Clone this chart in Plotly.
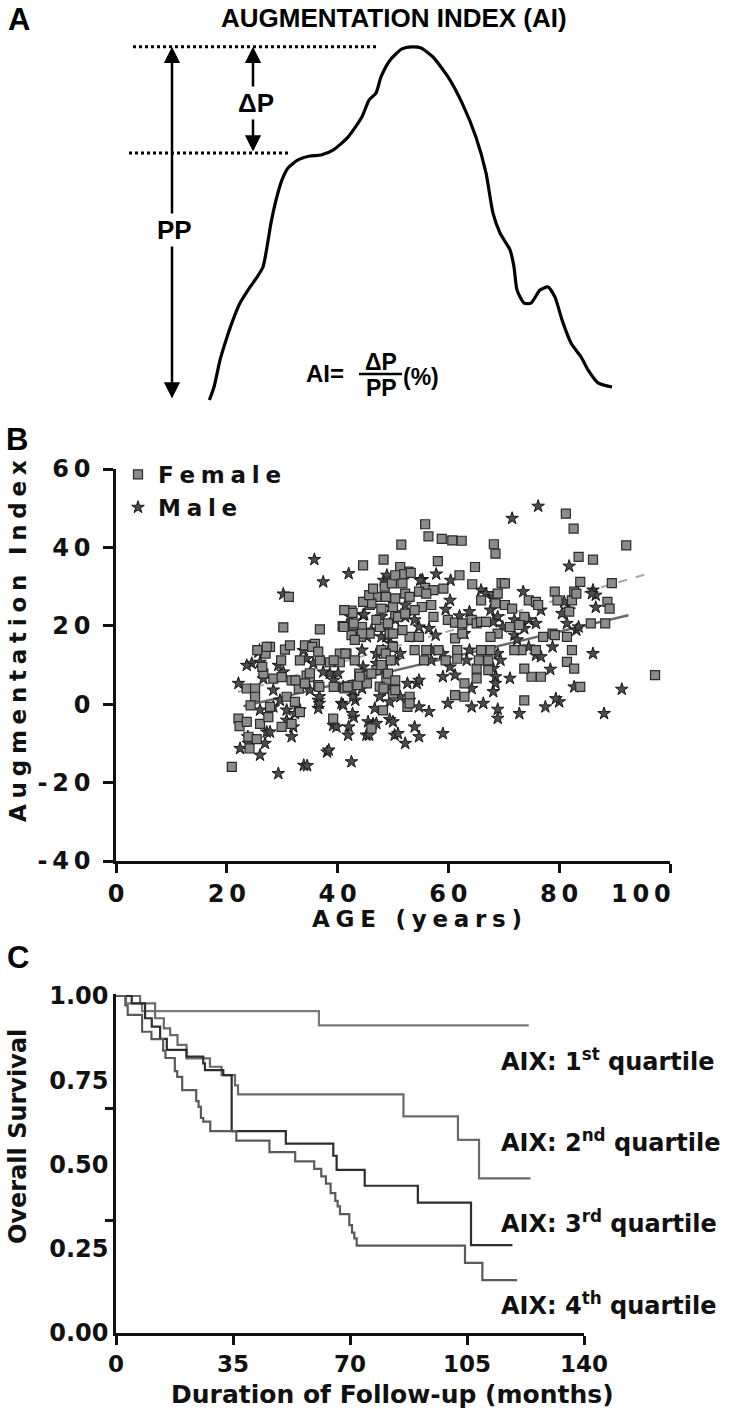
import plotly.graph_objects as go

W, H = 743, 1409

# ---------------- Panel A: schematic aortic pressure wave ----------------
wave_t = [0.1, 1.25, 2.75, 4.25, 6.0, 7.75, 9.75, 12.0, 13.5, 14.5, 15.5, 16.75, 18.25,
          19.75, 22.25, 25.25, 28.0, 31.0, 34.75, 38.25, 40.0, 41.75, 43.0, 45.25, 48.25,
          50.75, 53.0, 56.0, 59.75, 63.25, 66.75, 69.25, 71.0, 72.75, 75.25, 76.25, 77.0,
          78.75, 80.5, 82.75, 84.75, 86.5, 88.25, 90.5, 93.0, 94.75, 97.25, 100.75]
wave_p = [0.0, 3.7, 11.4, 17.1, 22.9, 27.7, 31.4, 35.1, 38.0, 43.7, 50.6, 57.1, 62.9,
          66.3, 68.6, 69.7, 70.0, 71.4, 75.1, 80.9, 85.7, 87.7, 92.3, 97.1, 100.3,
          100.9, 100.6, 98.0, 92.3, 84.9, 75.1, 64.9, 53.4, 47.7, 42.9, 38.0, 31.4,
          27.7, 27.7, 31.4, 32.3, 29.4, 22.9, 16.3, 12.3, 8.6, 4.9, 3.7]
peak_p = max(wave_p)
inflection_p = 70.6
base_p = min(wave_p)

# ---------------- Panel B: Augmentation index vs age ----------------
female_age = [20.9, 23.9, 24.1, 25.4, 22.1, 22.3, 23.6, 23.6, 25.1, 25.1,
              24.3, 26.0, 27.5, 27.8, 28.4, 29.9, 31.7, 33.0, 30.8, 32.3,
              33.2, 31.7, 29.9, 26.6, 27.8, 27.0, 30.5, 31.4, 30.2, 34.1,
              35.9, 33.2, 34.4, 35.0, 36.8, 36.5, 39.2, 38.6, 40.4, 41.6,
              40.4, 39.5, 41.3, 42.8, 42.5, 42.8, 40.9, 42.5, 43.9, 45.2,
              44.2, 45.8, 46.1, 45.2, 48.2, 45.8, 47.6, 49.4, 50.0, 48.2,
              48.8, 50.0, 50.4, 50.0, 47.0, 47.6, 31.2, 44.6, 48.3, 51.5,
              55.8, 56.4, 58.8, 60.7, 62.4, 58.1, 68.2, 68.5, 64.8, 81.2,
              82.6, 83.5, 86.1, 92.1, 97.3, 83.8, 89.5, 62.0, 52.8, 64.3,
              69.6, 55.8, 57.3, 59.1, 48.5, 49.8, 51.3, 52.0, 53.2, 50.4,
              51.7, 52.2, 53.0, 50.4, 48.7, 47.0, 45.3, 46.1, 44.4, 42.7,
              42.9, 41.1, 54.7, 56.0, 56.9, 55.2, 53.9, 57.3, 59.9, 61.2,
              62.5, 64.2, 65.1, 65.9, 66.8, 68.9, 70.2, 65.9, 68.5, 70.2,
              71.5, 73.7, 74.5, 75.8, 76.2, 79.2, 79.7, 82.3, 82.7, 83.1,
              81.8, 81.4, 82.3, 81.4, 82.7, 83.8, 78.8, 79.2, 77.1, 75.8,
              76.7, 75.0, 73.7, 73.2, 71.9, 71.1, 72.8, 73.7, 68.9, 67.6,
              67.6, 67.2, 67.2, 65.1, 65.1, 62.9, 62.9, 61.2, 61.6, 61.6,
              61.2, 62.5, 65.9, 65.5, 85.7, 88.3, 88.7, 89.1, 41.2, 44.6,
              45.7, 46.4, 47.9, 48.7, 49.6, 47.9, 49.1, 50.4, 48.3, 46.1,
              45.3, 50.4, 53.0, 52.6, 55.6, 56.0, 53.9, 54.7, 53.0, 51.7,
              50.0, 49.1, 50.9, 52.2, 47.0, 47.9, 44.4, 43.1, 41.4, 43.1,
              39.3, 36.8, 35.4, 36.5, 35.0, 34.1, 32.4, 36.7, 39.3, 41.8,
              43.6, 44.0, 53.0, 58.2, 59.5, 25.5, 27.2, 26.4, 29.8]
female_ai = [-16.0, -8.3, -11.3, -8.9, -3.7, -5.6, -4.5, 4.0, 4.0, 1.9,
             -0.3, -5.0, -3.3, -0.7, 6.5, 6.9, 6.1, 4.0, 1.9, 0.6,
             -2.0, -5.0, -5.8, 7.8, 14.6, 12.9, 13.9, 15.0, 19.6, 15.0,
             15.4, 11.2, 7.3, 6.9, 19.1, 4.9, -3.7, 10.7, 12.9, 12.9,
             10.7, 4.5, 4.0, 4.9, 23.9, 20.1, 19.9, 17.6, 7.8, 7.3,
             17.2, 18.0, -6.2, 6.1, -1.6, 25.3, 19.7, 18.0, 14.6, 9.5,
             6.1, 2.7, 22.7, 24.8, 8.7, 4.5, 27.4, 35.4, 36.9, 40.7,
             45.9, 42.8, 42.2, 41.8, 41.7, 36.5, 40.8, 38.4, 35.0, 48.6,
             44.8, 37.6, 36.9, 40.5, 7.4, 31.2, 30.9, 32.9, 33.8, 30.6,
             30.9, 29.7, 29.1, 29.5, 30.0, 30.8, 35.0, 33.2, 33.5, 32.9,
             30.8, 28.2, 27.4, 27.0, 27.4, 27.4, 26.1, 25.7, 19.7, 23.3,
             20.6, 19.7, 28.7, 28.2, 25.3, 24.8, 24.0, 22.3, 21.5, 20.8,
             20.6, 21.5, 20.6, 21.0, 21.0, 28.2, 30.8, 26.5, 25.7, 25.3,
             24.4, 22.3, 26.5, 26.1, 25.3, 28.7, 26.5, 26.5, 28.7, 28.2,
             23.6, 17.2, 13.8, 10.8, 9.1, 4.4, 18.0, 17.6, 17.2, 13.8,
             7.0, 7.0, 9.1, 13.8, 13.8, 19.7, 20.2, 1.0, 18.0, 17.2,
             13.8, 11.2, 8.7, 9.1, 6.6, 5.3, 1.9, 2.3, 13.8, 11.6,
             16.8, 18.0, 13.8, 11.2, 20.6, 20.6, 26.1, 24.4, 24.0, 26.1,
             27.8, 29.5, 13.8, 12.9, 11.2, 10.0, 7.8, 6.1, 4.0, 7.8,
             5.3, 3.6, 1.9, -0.7, 11.2, 13.8, 13.8, 17.2, 17.2, 18.9,
             18.0, 20.6, 22.3, 23.1, 21.5, 24.4, 18.0, 16.4, 12.9, 11.2,
             11.2, 11.2, 14.6, 13.4, 7.9, 5.3, 6.1, 4.4, 4.4, 4.4,
             4.9, 7.0, 0.2, 13.8, 11.2, 13.8, 14.6, 9.5, 11.2]

male_age = [22.1, 24.5, 25.7, 26.0, 23.6, 29.3, 30.2, 26.6, 28.4, 29.6,
            30.8, 28.4, 26.0, 27.2, 22.4, 23.9, 26.0, 26.9, 27.8, 29.3,
            31.7, 32.0, 30.8, 33.9, 38.1, 42.5, 33.8, 34.4, 35.6, 35.0,
            36.5, 36.5, 40.7, 39.2, 39.8, 42.0, 41.9, 42.9, 43.2, 44.6,
            42.2, 42.8, 45.2, 45.5, 46.4, 46.7, 49.4, 50.3, 49.4, 48.8,
            47.6, 48.2, 48.8, 44.6, 42.8, 38.6, 37.4, 33.2, 32.3, 35.8,
            37.4, 42.0, 44.8, 30.2, 55.3, 57.8, 60.4, 60.3, 59.5, 62.0,
            63.8, 62.9, 63.8, 63.3, 61.2, 60.3, 59.9, 59.0, 64.2, 64.2,
            66.3, 65.9, 66.8, 68.1, 67.6, 68.9, 68.1, 69.8, 68.9, 69.4,
            68.1, 68.5, 68.5, 68.1, 68.9, 68.9, 71.1, 71.5, 71.9, 71.9,
            72.4, 72.8, 73.5, 73.7, 74.5, 74.5, 76.2, 75.8, 75.8, 76.7,
            76.7, 77.5, 78.4, 78.8, 80.0, 80.5, 80.9, 81.4, 81.8, 81.8,
            82.7, 83.1, 83.5, 86.1, 86.6, 86.6, 86.1, 88.1, 91.3, 48.3,
            52.2, 52.2, 53.9, 54.7, 56.5, 57.7, 56.9, 56.9, 59.0, 59.0,
            54.3, 56.5, 54.7, 53.0, 51.3, 49.6, 48.7, 50.4, 51.3, 49.6,
            47.9, 48.7, 47.9, 50.4, 49.6, 47.0, 45.3, 46.1, 44.4, 54.7,
            53.9, 52.2, 50.9, 50.0, 47.0, 45.7, 42.7, 41.0, 39.3, 38.4,
            34.5, 23.8, 40.1, 36.7, 36.7, 41.0, 44.4, 47.0, 44.4, 54.7,
            52.6, 54.9, 85.9, 79.4, 48.9, 25.9]
male_ai = [5.3, 10.4, 13.3, 10.7, 9.9, 9.9, 8.2, 6.5, 3.6, 1.0,
           -1.5, -0.7, -1.5, -7.1, -11.3, -10.0, -13.0, -10.0, -7.1, -17.7,
           -8.3, -5.8, -4.1, -15.6, -12.2, -14.7, 13.7, 11.6, 10.4, 3.6,
           1.0, -1.1, 0.2, -5.4, -5.8, -5.8, -7.9, -3.3, 1.0, 22.7,
           22.4, 1.9, -7.9, -4.5, -5.0, -1.1, -3.9, -7.9, 0.6, 3.6,
           1.9, 13.7, 17.2, 9.5, 3.6, 7.8, 8.2, -1.5, -2.4, 36.9,
           31.2, 33.3, 22.9, 28.1, 31.8, 33.2, 31.6, 26.5, 24.2, 22.5,
           23.6, 18.0, 13.8, 11.2, 7.4, 9.5, 0.2, -7.5, 4.0, -0.7,
           0.2, 29.1, 28.2, 27.4, 24.0, 22.3, 21.0, 19.7, 12.9, 11.2,
           9.1, 7.0, 5.3, 3.2, -1.3, -3.6, 6.6, 47.4, 21.5, 17.6,
           16.4, -2.4, 28.7, 19.3, 21.5, 14.6, 50.5, 20.6, 12.5, 12.1,
           24.0, -0.7, 8.9, 14.6, 0.6, 23.1, 26.1, 20.6, 24.0, 35.2,
           4.4, 18.9, 19.7, 29.1, 27.8, 24.7, 12.9, -2.4, 3.8, 31.6,
           25.3, 22.3, 21.5, 19.7, 19.3, 17.6, 13.8, 11.2, 12.9, 7.0,
           5.3, -1.9, -0.7, 1.0, 1.9, 4.0, 7.8, 11.2, 12.9, 15.5,
           17.2, 19.7, 22.3, 21.5, 24.8, 12.9, 17.2, 18.9, 13.8, -8.3,
           -5.8, -10.0, -7.5, -4.5, -4.9, -7.9, -2.4, -0.2, 6.1, -11.7,
           -15.7, -8.3, 7.9, 0.2, 1.9, 4.4, 4.0, 10.4, 7.9, 6.1,
           5.3, 31.6, 28.2, 1.4, 32.9, 13.8]

fit_solid_age = [23.0, 92.5]
fit_solid_ai = [-0.5, 22.7]
fit_dash_age = [22.0, 96.5]
fit_dash_ai = [3.1, 33.5]

b_xticks = [0, 20, 40, 60, 80, 100]
b_yticks = [-40, -20, 0, 20, 40, 60]

# ---------------- Panel C: Kaplan-Meier survival by AIx quartile ----------------
q1_t = [0, 3.0, 7.8, 60.7, 123.5]
q1_s = [1.0, 0.978, 0.955, 0.913, 0.913]
q2_t = [0, 7.2, 11.7, 14.3, 16.2, 18.4, 21.1, 28.1, 31.6, 35.6, 36.5, 86.0, 102.3, 108.6, 124.0]
q2_s = [1.0, 0.978, 0.934, 0.904, 0.884, 0.855, 0.815, 0.790, 0.765, 0.735, 0.708, 0.643, 0.573, 0.459, 0.459]
q3_t = [0, 4.7, 8.7, 10.7, 13.2, 15.2, 21.1, 26.1, 26.6, 32.1, 34.6, 50.8, 65.0, 66.0, 74.4, 90.3, 106.2, 118.6]
q3_s = [1.0, 0.978, 0.934, 0.909, 0.873, 0.840, 0.820, 0.800, 0.780, 0.765, 0.599, 0.562, 0.526, 0.484, 0.437, 0.387, 0.261, 0.261]
q4_t = [0, 2.8, 3.5, 7.8, 10.6, 14.1, 14.8, 17.6, 18.3, 19.8, 24.0, 24.7, 25.4, 26.1, 28.2, 36.0,
        45.9, 53.6, 59.3, 61.4, 62.8, 64.2, 65.6, 66.3, 67.0, 69.8, 70.6, 71.3, 72.0, 104.4, 109.6, 120.0]
q4_s = [1.0, 0.972, 0.944, 0.894, 0.872, 0.838, 0.816, 0.777, 0.760, 0.721, 0.688, 0.671, 0.638, 0.627, 0.599, 0.571,
        0.537, 0.509, 0.487, 0.465, 0.443, 0.415, 0.392, 0.376, 0.353, 0.320, 0.298, 0.281, 0.259, 0.208, 0.157, 0.157]
quartile_labels = ["1<sup>st</sup>", "2<sup>nd</sup>", "3<sup>rd</sup>", "4<sup>th</sup>"]
quartile_label_s = [0.81, 0.571, 0.328, 0.086]

c_xticks = [0, 35, 70, 105, 140]
c_yticks = [0, 0.25, 0.5, 0.75, 1.0]


def px(x):
    return x / W


def py(y):
    return 1 - y / H


def spaced(s, sep="\u2005"):
    return sep.join(s)


INK = "#111111"
HEAVY = "DejaVu Sans"
ARIAL = "Liberation Sans, Arial, sans-serif"

fig = go.Figure()

# Panel A curve
fig.add_trace(go.Scatter(x=wave_t, y=wave_p, mode="lines",
                         line=dict(color="black", width=3.2, shape="spline", smoothing=0.6),
                         xaxis="x", yaxis="y", showlegend=False, hoverinfo="skip"))

# Panel B regression lines
fig.add_trace(go.Scatter(x=fit_dash_age, y=fit_dash_ai, mode="lines",
                         line=dict(color="#a8a8a8", width=2, dash="dash"),
                         xaxis="x2", yaxis="y2", showlegend=False))
fig.add_trace(go.Scatter(x=fit_solid_age, y=fit_solid_ai, mode="lines",
                         line=dict(color="#6a6a6a", width=2.5),
                         xaxis="x2", yaxis="y2", showlegend=False))
fig.add_trace(go.Scatter(x=male_age, y=male_ai, mode="markers", name=spaced("Male"), legendrank=2,
                         marker=dict(symbol="star", size=9.5, color="#4d4d4d",
                                     line=dict(color="#151515", width=1)),
                         xaxis="x2", yaxis="y2"))
fig.add_trace(go.Scatter(x=female_age, y=female_ai, mode="markers", name=spaced("Female"), legendrank=1,
                         marker=dict(symbol="square", size=9, color="#8c8c8c",
                                     line=dict(color="#2a2a2a", width=1.2)),
                         xaxis="x2", yaxis="y2"))

# Panel C survival curves
for t, s, col in [(q1_t, q1_s, "#7a7a7a"), (q2_t, q2_s, "#6a6a6a"),
                  (q3_t, q3_s, "#2e2e2e"), (q4_t, q4_s, "#5a5a5a")]:
    fig.add_trace(go.Scatter(x=t, y=s, mode="lines", line=dict(color=col, width=2.2, shape="hv"),
                             xaxis="x3", yaxis="y3", showlegend=False))

axis_common = dict(showgrid=False, zeroline=False, showline=True, linecolor=INK, linewidth=2.5,
                   automargin=False)

fig.update_layout(
    template="none",
    width=W, height=H, autosize=False,
    margin=dict(l=0, r=0, t=0, b=0, pad=0),
    paper_bgcolor="white", plot_bgcolor="rgba(0,0,0,0)",
    hovermode=False,
    xaxis=dict(domain=[0, 1], range=[-52.25, 133.5], visible=False, anchor="y", automargin=False),
    yaxis=dict(domain=[py(420), 1], range=[-5.714, 114.286], visible=False, anchor="x", automargin=False),
    xaxis2=dict(domain=[px(116), px(670)], range=[0, 100], anchor="y2", **axis_common,
                ticks="outside", ticklen=9, tickwidth=2.5, tickcolor=INK,
                tickmode="array", tickvals=b_xticks,
                ticktext=[spaced(str(v), "\u2009") if v != 100 else spaced(str(v), "\u2009") + "\u00a0" * 7
                          for v in b_xticks],
                tickfont=dict(family=HEAVY, size=24, color=INK, weight="bold")),
    yaxis2=dict(domain=[py(861), py(469)], range=[-40, 60], anchor="x2", **axis_common,
                ticks="outside", ticklen=10, tickwidth=2.5, tickcolor=INK,
                tickmode="array", tickvals=b_yticks,
                ticktext=[spaced(str(v), "\u2009") for v in b_yticks],
                ticklabelstandoff=8,
                tickfont=dict(family=HEAVY, size=24, color=INK, weight="bold")),
    xaxis3=dict(domain=[px(116), px(584)], range=[0, 140], anchor="y3", **axis_common,
                ticks="outside", ticklen=9, tickwidth=2.5, tickcolor=INK,
                tickmode="array", tickvals=c_xticks, ticktext=[str(v) for v in c_xticks],
                tickfont=dict(family=HEAVY, size=23, color=INK, weight="bold")),
    yaxis3=dict(domain=[py(1333), py(996 - 0.005 * 337)], range=[0, 1.005], anchor="x3", **axis_common,
                ticks="", tickmode="array", tickvals=c_yticks,
                ticktext=["%.2f" % v for v in c_yticks],
                minor=dict(tickmode="array", tickvals=[1 / 3, 2 / 3], ticks="outside",
                           ticklen=8, tickwidth=2.5, tickcolor=INK),
                tickfont=dict(family=HEAVY, size=24, color=INK, weight="bold")),
    showlegend=True,
    legend=dict(x=px(118), y=py(453), xanchor="left", yanchor="top",
                bgcolor="rgba(0,0,0,0)", borderwidth=0, tracegroupgap=0, itemwidth=30,
                font=dict(family=HEAVY, size=23, color=INK, weight="bold")),
)

# ---- Panel A guide lines ----
fig.add_shape(type="line", xref="x", yref="y", x0=-19, x1=42.25, y0=peak_p, y1=peak_p,
              line=dict(color="black", width=3, dash="dot"))
fig.add_shape(type="line", xref="x", yref="y", x0=-20, x1=19.75, y0=inflection_p, y1=inflection_p,
              line=dict(color="black", width=3, dash="dot"))


def note(x, y, text, font, xanchor="center", yanchor="middle", xref="paper", yref="paper", **kw):
    d = dict(x=x, y=y, xref=xref, yref=yref, text=text, showarrow=False,
             xanchor=xanchor, yanchor=yanchor, font=font)
    d.update(kw)
    return d


annotations = []
# PP arrow and ΔP arrow (double headed)
for xa, lo, hi in [(-9.25, base_p, peak_p), (11.0, inflection_p, peak_p)]:
    annotations.append(dict(x=xa, y=hi, ax=xa, ay=lo, xref="x", yref="y", axref="x", ayref="y",
                            text="", showarrow=True, arrowside="end+start",
                            arrowhead=2, startarrowhead=2, arrowsize=1.3, startarrowsize=1.3,
                            arrowwidth=2.5, arrowcolor="black", standoff=0, startstandoff=0))
fA = dict(family=ARIAL, size=26, color="black")
annotations.append(note(-8.75, 48.6, "<b>PP</b>", fA, xref="x", yref="y", bgcolor="white"))
annotations.append(note(11.75, 84.9, "<b>ΔP</b>", fA, xref="x", yref="y", bgcolor="white"))
# formula
fF = dict(family=ARIAL, size=23, color="black")
annotations.append(note(px(346), py(374), "<b>AI=</b>", dict(family=ARIAL, size=24, color="black"),
                        xanchor="right"))
annotations.append(note(px(381), py(362), "<b>ΔP</b>", fF))
annotations.append(note(px(381), py(388), "<b>PP</b>", fF))
annotations.append(note(px(401), py(377), "<b>(%)</b>", fF, xanchor="left"))
fig.add_shape(type="line", xref="paper", yref="paper", x0=px(359), x1=px(402), y0=py(374), y1=py(374),
              line=dict(color="black", width=2.5))
# title A
annotations.append(note(px(394), py(18), "<b>AUGMENTATION INDEX (AI)</b>",
                        dict(family=ARIAL, size=26, color="black")))
# panel letters
for letter, xx, yy in [("A", 19, 20), ("B", 17, 439), ("C", 18, 958)]:
    annotations.append(note(px(xx), py(yy), "<b>%s</b>" % letter, dict(family=ARIAL, size=31, color="black")))

fH = dict(family=HEAVY, size=23, color=INK, weight="bold")
# Panel B axis titles
annotations.append(note(px(18), py(641), spaced("Augmentation Index"), fH, textangle=-90))
annotations.append(note(px(417), py(919), spaced("AGE (years)"), fH))

# Panel C axis titles
annotations.append(note(px(18), py(1137), "Overall Survival",
                        dict(family=HEAVY, size=24, color=INK, weight="bold"), textangle=-90))
annotations.append(note(px(392), py(1394), "Duration of Follow-up (months)",
                        dict(family=HEAVY, size=25, color=INK, weight="bold")))
# Quartile labels
for lab, sv in zip(quartile_labels, quartile_label_s):
    annotations.append(note(px(499), sv, "AIX: %s quartile" % lab,
                            dict(family=HEAVY, size=24, color=INK, weight="bold"),
                            xanchor="left", yref="y3"))

fig.update_layout(annotations=annotations)

fig.write_html("out.html")
